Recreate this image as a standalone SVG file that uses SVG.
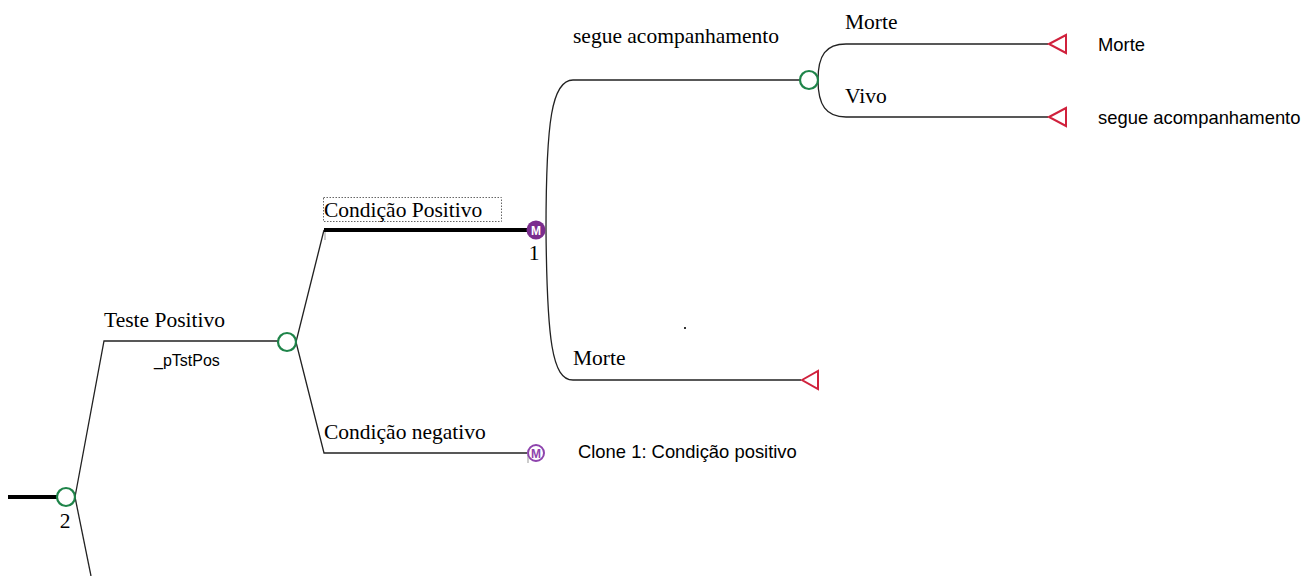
<svg xmlns="http://www.w3.org/2000/svg" width="1309" height="576" viewBox="0 0 1309 576">
<defs>
<style>
.ln{fill:none;stroke:#222;stroke-width:1.3}
.thick{fill:none;stroke:#000;stroke-width:4}
.chance{fill:#fff;stroke:#1e8449;stroke-width:2.2}
.term{fill:#fff;stroke:#d0213c;stroke-width:2}
.lbl{font-family:"Liberation Serif","Times New Roman",serif;font-size:21.5px;fill:#000}
.sans{font-family:"Liberation Sans",Arial,sans-serif;font-size:18.4px;fill:#000}
.small{font-family:"Liberation Sans",Arial,sans-serif;font-size:16px;fill:#000}
.mk{font-family:"Liberation Sans",Arial,sans-serif;font-size:12px;font-weight:bold;text-anchor:middle}
</style>
</defs>
<rect width="1309" height="576" fill="#fff"/>
<g id="connectors">
<line class="thick" x1="8" y1="497" x2="57" y2="497"/>
<path class="ln" d="M75,497 L104,341 L278,341"/>
<path class="ln" d="M75,497 L91,576"/>
<path class="ln" d="M296,342 L324,230"/>
<path class="ln" d="M296,342 L324,453 L527,453"/>
<line class="thick" x1="324" y1="230" x2="527" y2="230"/>
<line x1="325" y1="232" x2="325" y2="240" stroke="#999" stroke-width="1"/>
<line x1="528" y1="455" x2="528" y2="463" stroke="#999" stroke-width="1"/>
<path class="ln" d="M546,230 C546,120 552,80 573,80 L800,80"/>
<path class="ln" d="M546,230 C547,340 552,380 573,380 L801,380"/>
<path class="ln" d="M818,80 C818,55 826,44 846,44 L1048,44"/>
<path class="ln" d="M818,80 C818,105 826,117 846,117 L1048,117"/>
</g>
<g id="node-root">
<circle class="chance" cx="66" cy="497" r="9"/>
<text class="lbl" x="65" y="528" text-anchor="middle">2</text>
</g>
<g id="node-teste-positivo">
<text class="lbl" x="104" y="327">Teste Positivo</text>
<text class="small" x="154" y="366">_pTstPos</text>
<circle class="chance" cx="287" cy="342" r="9"/>
</g>
<g id="node-condicao-positivo">
<rect x="323.5" y="197.5" width="178" height="24" fill="none" stroke="#666" stroke-width="1" stroke-dasharray="1.5,1.5"/>
<text class="lbl" x="324" y="217">Condição Positivo</text>
<circle cx="536" cy="230" r="9.5" fill="#7b2d8e"/>
<text class="mk" x="536" y="234.5" fill="#fff">M</text>
<text class="lbl" x="534" y="260" text-anchor="middle">1</text>
</g>
<g id="node-segue">
<text class="lbl" x="573" y="43">segue acompanhamento</text>
<circle class="chance" cx="809" cy="80" r="9"/>
</g>
<g id="node-morte-top">
<text class="lbl" x="845" y="29">Morte</text>
<polygon class="term" points="1049,44 1066,35 1066,53"/>
<text class="sans" x="1098" y="51">Morte</text>
</g>
<g id="node-vivo">
<text class="lbl" x="845" y="103">Vivo</text>
<polygon class="term" points="1049,117 1066,108 1066,126"/>
<text class="sans" x="1098" y="124">segue acompanhamento</text>
</g>
<g id="node-morte-lower">
<text class="lbl" x="573" y="365">Morte</text>
<polygon class="term" points="802,380 818,371 818,389"/>
</g>
<g id="node-condicao-negativo">
<text class="lbl" x="324" y="439">Condição negativo</text>
<circle cx="536" cy="453" r="8" fill="#fff" stroke="#8e44ad" stroke-width="2"/>
<text class="mk" x="536" y="457.5" fill="#8e44ad">M</text>
<text class="sans" x="578" y="458">Clone 1: Condição positivo</text>
</g>
<rect x="684" y="327" width="2" height="2" fill="#333"/>
</svg>
